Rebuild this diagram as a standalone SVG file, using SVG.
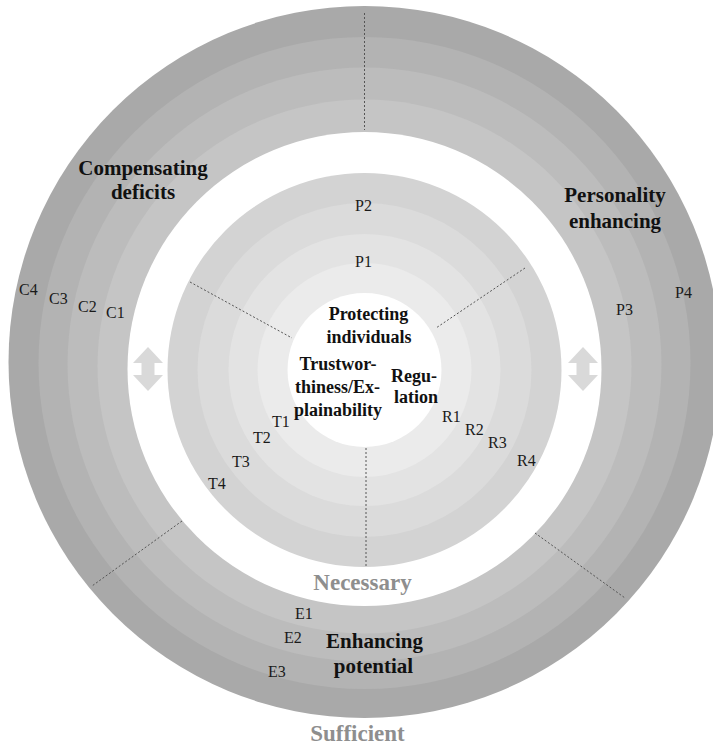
<svg xmlns="http://www.w3.org/2000/svg" width="713" height="747" viewBox="0 0 713 747">
<style>
.lab{font-family:"Liberation Serif","DejaVu Serif",serif;font-size:16px;fill:#1a1a1a}
.ttl{font-family:"Liberation Serif","DejaVu Serif",serif;font-size:21px;font-weight:bold;fill:#111;text-anchor:middle}
.ctr{font-family:"Liberation Serif","DejaVu Serif",serif;font-size:18px;font-weight:bold;fill:#111;text-anchor:middle}
.gry{font-family:"Liberation Serif","DejaVu Serif",serif;font-weight:bold;fill:#8e8e8e;text-anchor:middle}
.dash{stroke:#555;stroke-width:1;stroke-dasharray:2 2;fill:none}
.arr{fill:#d9d9d9}
</style>
<rect width="713" height="747" fill="#ffffff"/>
<g id="rings">
<circle cx="364.5" cy="362" r="356" fill="#a9a9a9"/>
<circle cx="364.5" cy="363" r="326" fill="#b3b3b3"/>
<circle cx="364.5" cy="364.5" r="297" fill="#bcbcbc"/>
<circle cx="364.5" cy="366.5" r="267" fill="#c5c5c5"/>
<circle cx="364.5" cy="369" r="237" fill="#ffffff"/>
<circle cx="364.5" cy="370" r="197" fill="#d3d3d3"/>
<circle cx="364.5" cy="370" r="167" fill="#dbdbdb"/>
<circle cx="364.5" cy="370" r="136" fill="#e3e3e3"/>
<circle cx="364.5" cy="370" r="107" fill="#ebebeb"/>
<circle cx="364.5" cy="370" r="77" fill="#ffffff"/>
</g>
<g id="connectors">
<line class="dash" x1="364.5" y1="13" x2="364.5" y2="130"/>
<line class="dash" x1="182" y1="521" x2="92" y2="586"/>
<line class="dash" x1="535" y1="533" x2="625" y2="598"/>
<line class="dash" x1="190" y1="282" x2="292" y2="338"/>
<line class="dash" x1="525" y1="268" x2="436" y2="328"/>
<line class="dash" x1="366" y1="448" x2="366" y2="568"/>
<polygon class="arr" points="148,347 163,363 154.5,363 154.5,375 163,375 148,391 133,375 141.5,375 141.5,363 133,363"/>
<polygon class="arr" points="583,347 598,363 589.5,363 589.5,375 598,375 583,391 568,375 576.5,375 576.5,363 568,363"/>
</g>
<g id="compensating">
<text class="ttl" x="143" y="175">Compensating</text>
<text class="ttl" x="143" y="199">deficits</text>
<text class="lab" x="19" y="295">C4</text>
<text class="lab" x="49" y="304">C3</text>
<text class="lab" x="78" y="312">C2</text>
<text class="lab" x="106" y="318">C1</text>
</g>
<g id="personality">
<text class="ttl" x="615" y="202">Personality</text>
<text class="ttl" x="615" y="228">enhancing</text>
<text class="lab" x="616" y="315">P3</text>
<text class="lab" x="675" y="298">P4</text>
</g>
<g id="protecting">
<text class="ctr" x="368.5" y="320">Protecting</text>
<text class="ctr" x="369" y="343">individuals</text>
<text class="lab" x="355" y="211">P2</text>
<text class="lab" x="355" y="267">P1</text>
</g>
<g id="trust">
<text class="ctr" x="338" y="370">Trustwor-</text>
<text class="ctr" x="337.5" y="393">thiness/Ex-</text>
<text class="ctr" x="338" y="416">plainability</text>
<text class="lab" x="272" y="427">T1</text>
<text class="lab" x="253" y="443">T2</text>
<text class="lab" x="232" y="467">T3</text>
<text class="lab" x="208" y="489">T4</text>
</g>
<g id="regulation">
<text class="ctr" x="414" y="382">Regu-</text>
<text class="ctr" x="416" y="403">lation</text>
<text class="lab" x="442" y="422">R1</text>
<text class="lab" x="465" y="435">R2</text>
<text class="lab" x="488" y="448">R3</text>
<text class="lab" x="517" y="466">R4</text>
</g>
<g id="enhancing">
<text class="ttl" x="374.5" y="648">Enhancing</text>
<text class="ttl" x="373.5" y="673">potential</text>
<text class="lab" x="295" y="619">E1</text>
<text class="lab" x="284" y="643">E2</text>
<text class="lab" x="268" y="677">E3</text>
</g>
<g id="necessary">
<text class="gry" x="362.5" y="590" font-size="23">Necessary</text>
</g>
<g id="sufficient">
<text class="gry" x="357.5" y="741" font-size="23">Sufficient</text>
</g>
</svg>
